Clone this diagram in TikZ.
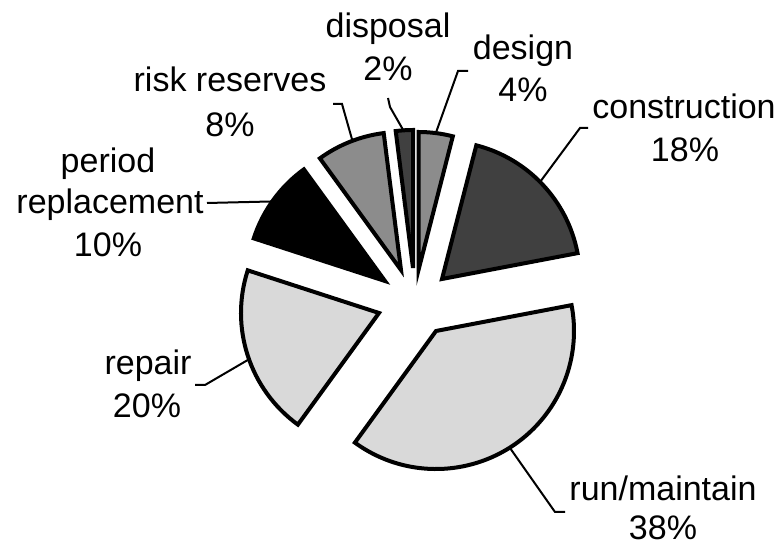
\documentclass[tikz,border=0pt]{standalone}
\usepackage{fontspec}
\setmainfont{Liberation Sans}
\usetikzlibrary{calc}
\definecolor{slicelight}{HTML}{D9D9D9}
\definecolor{slicemid}{HTML}{8C8C8C}
\definecolor{slicedark}{HTML}{404040}
\begin{document}
\begin{tikzpicture}[x=1pt,y=1pt,
  slice/.style={draw=black, line width=4pt, line join=miter},
  leader/.style={draw=black, line width=2pt},
  lbl/.style={anchor=base, inner sep=0pt, font=\fontsize{34}{42}\selectfont}]
\useasboundingbox (0,0) rectangle (779,546);
\def\R{138}

% apex of each exploded slice
\coordinate (tdesign)   at (418.5,276);
\coordinate (tdisposal) at (413,278);
\coordinate (tconstr)   at (442,267);
\coordinate (trun)      at (436,215);
\coordinate (trepair)   at (379,233);
\coordinate (tperiod)   at (385,265);
\coordinate (trisk)     at (401,276);

% slices, clockwise from the top
\draw[slice, fill=slicemid]   (tdesign)   -- ++(75.6:\R)  arc[start angle=75.6,  end angle=90,    radius=\R] -- cycle;
\draw[slice, fill=slicedark]  (tconstr)   -- ++(10.8:\R)  arc[start angle=10.8,  end angle=75.6,  radius=\R] -- cycle;
\draw[slice, fill=slicelight] (trun)      -- ++(-126:\R)  arc[start angle=-126,  end angle=10.8,  radius=\R] -- cycle;
\draw[slice, fill=slicelight] (trepair)   -- ++(162:\R)   arc[start angle=162,   end angle=234,   radius=\R] -- cycle;
\draw[slice, fill=black]      (tperiod)   -- ++(126:\R)   arc[start angle=126,   end angle=162,   radius=\R] -- cycle;
\draw[slice, fill=slicemid]   (trisk)     -- ++(97.2:\R)  arc[start angle=97.2,  end angle=126,   radius=\R] -- cycle;
\draw[slice, fill=slicedark]  (tdisposal) -- ++(90:\R)    arc[start angle=90,    end angle=97.2,  radius=\R] -- cycle;

% labels
\node[lbl] (ldisposal)  at (388,508) {disposal};
\node[lbl] (pdisposal)  at (388,465) {2\%};
\node[lbl] (ldesign)    at (523,486) {design};
\node[lbl] (pdesign)    at (523,444) {4\%};
\node[lbl] (lrisk)      at (230,454) {risk reserves};
\node[lbl] (prisk)      at (230,409) {8\%};
\node[lbl] (lconstr)    at (684,427) {construction};
\node[lbl] (pconstr)    at (685,384) {18\%};
\node[lbl] (lperiod)    at (108,373) {period};
\node[lbl] (lperiodb)   at (110,332) {replacement};
\node[lbl] (pperiod)    at (108,289) {10\%};
\node[lbl] (lrepair)    at (148,171) {repair};
\node[lbl] (prepair)    at (147,128) {20\%};
\node[lbl] (lrun)       at (663,45)  {run/maintain};
\node[lbl] (prun)       at (663,6)   {38\%};

% leader lines
\coordinate (sdisposal) at (388,448);
\coordinate (sdesign)   at (468,475);
\coordinate (srisk)     at (333,442);
\coordinate (sconstr)   at (588,418);
\coordinate (speriod)   at (207,343);
\coordinate (srepair)   at (195,161);
\coordinate (srun)      at (565,34);

\draw[leader] (sdisposal) -- ++(2,-9)  -- ($(tdisposal)+(94:\R)$);
\draw[leader] (sdesign)   -- ++(-10,0) -- ($(tdesign)+(82.8:\R)$);
\draw[leader] (srisk)     -- ++(9,0)   -- ($(trisk)+(110.6:\R)$);
\draw[leader] (sconstr)   -- ++(-8,0)  -- ($(tconstr)+(44.7:\R)$);
\draw[leader] (speriod)   -- ($(tperiod)+(144.8:\R)$);
\draw[leader] (srepair)   -- ++(10,0)  -- ($(trepair)+(199.6:\R)$);
\draw[leader] (srun)      -- ++(-10,0) -- ($(trun)+(-57.7:\R)$);
\end{tikzpicture}
\end{document}
